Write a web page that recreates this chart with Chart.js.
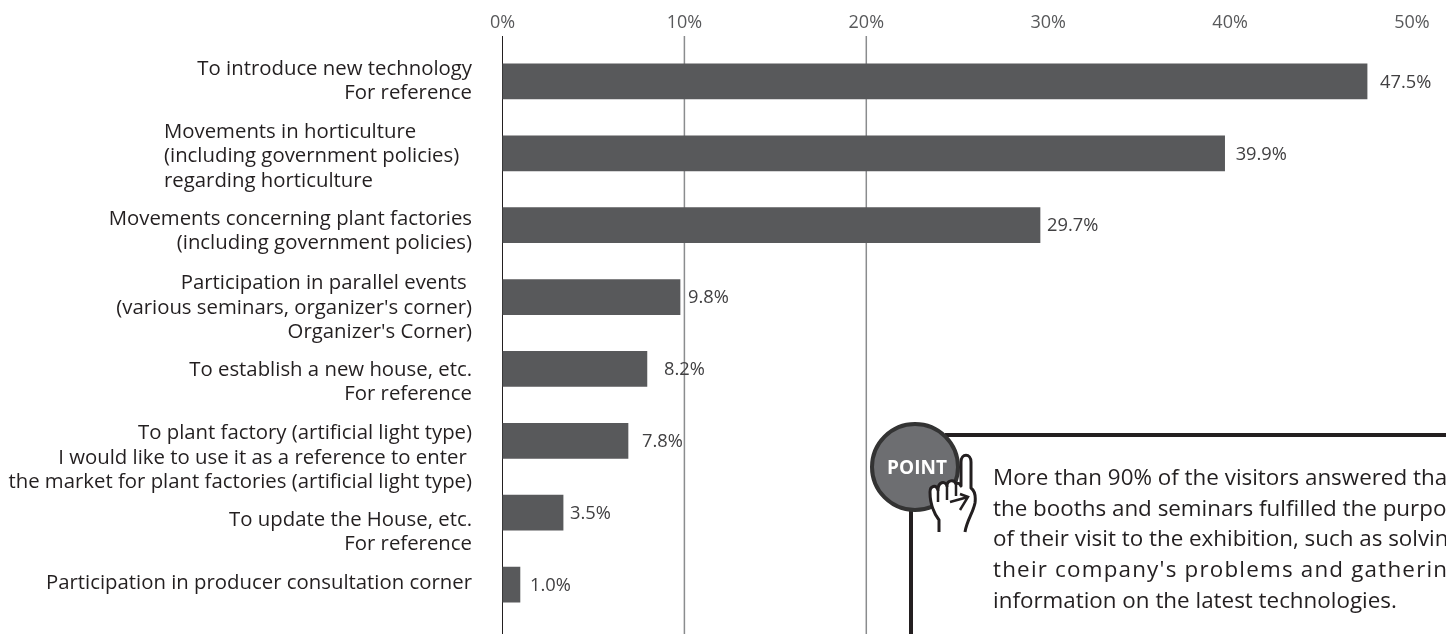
<!DOCTYPE html>
<html><head><meta charset="utf-8">
<script src="https://cdn.jsdelivr.net/npm/chart.js@4"></script>
<style>
html,body{margin:0;padding:0;background:#fff;overflow:hidden}
#wrap{position:relative;width:1446px;height:634px;overflow:hidden}
#c{position:absolute;left:0;top:0}
#note{position:absolute;left:993px;top:462px;font:22.4px/30.7px "Open Sans",sans-serif;color:#231f20;white-space:pre}
#art{position:absolute;left:0;top:0}
</style></head><body>
<div id="wrap">
<canvas id="c" width="1446" height="634"></canvas>
<svg id="art" width="1446" height="634">
<path d="M1446 435H945M911 505V634" stroke="#231f20" stroke-width="4" fill="none"/>
<circle cx="915" cy="467" r="43" fill="#6d6e71" stroke="#333" stroke-width="4"/>
<text x="917" y="474" text-anchor="middle" font-family="Open Sans" font-weight="700" font-size="19" fill="#fff">POINT</text>
<path d="M939 532V520C933 512 930 504 930 492C930 486 936 484 938 490C938 482 945 480 947 486C947 480 954 479 956 484C958 482 960 484 961 486V462C961 453 971 453 971 462V488C975 491 976 495 975 503C973 513 967 520 965 532" fill="#fff" stroke="#231f20" stroke-width="3" stroke-linejoin="round"/>
<path d="M938 490V502M947 486V500M956 484V496M968 497L950 502M960 494L968 497L960 510" fill="none" stroke="#231f20" stroke-width="2.5"/>
</svg>
<div id="note">More than 90% of the visitors answered that
the booths and seminars fulfilled the purpose
of their visit to the exhibition, such as solving
<span style="letter-spacing:1.2px">their company's problems and gathering</span>
information on the latest technologies.</div>
</div>
<script>
const categories = [
  ["To introduce new technology","For reference"],
  ["Movements in horticulture","(including government policies)","regarding horticulture"],
  ["Movements concerning plant factories","(including government policies)"],
  ["Participation in parallel events\u00a0","(various seminars, organizer's corner)","Organizer's Corner)"],
  ["To establish a new house, etc.","For reference"],
  ["To plant factory (artificial light type)","I would like to use it as a reference to enter\u00a0","the market for plant factories (artificial light type)"],
  ["To update the House, etc.","For reference"],
  ["Participation in producer consultation corner"]
];
// bar lengths as measured on the picture
const barLengths = [47.53,39.7,29.55,9.76,7.94,6.9,3.33,0.96];
// percentages as printed beside the bars
const printedLabels = ["47.5%","39.9%","29.7%","9.8%","8.2%","7.8%","3.5%","1.0%"];
const tickValues = [0,10,20,30,40,50];
const griddedTicks = [0,10,20];
const FONT = '"Open Sans",sans-serif';
const labelGap = [13,11,7,8,17,14,7,10];
const categoryNudge = [-2,1.5,4.5,9.5,11.5,15.5,18,-2.5];

const overlay = {
  id:'overlay',
  beforeDatasetsDraw(chart){
    const {ctx,scales:{x}} = chart;
    ctx.save();
    griddedTicks.forEach(v=>{
      const px = x.getPixelForValue(v);
      ctx.strokeStyle = v===0 ? '#231f20' : '#8a8c8e';
      ctx.lineWidth = v===0 ? 1 : 1.5;
      ctx.beginPath();ctx.moveTo(px,36);ctx.lineTo(px,634);ctx.stroke();
    });
    ctx.restore();
  },
  afterDatasetsDraw(chart){
    const {ctx,scales:{x,y}} = chart;
    ctx.save();
    ctx.font = '18.3px '+FONT;
    ctx.fillStyle = '#414042';
    ctx.textBaseline = 'middle';
    barLengths.forEach((v,i)=>{
      ctx.fillText(printedLabels[i], x.getPixelForValue(v)+labelGap[i], y.getPixelForValue(i)+1);
    });
    ctx.font = '20.35px '+FONT;
    ctx.fillStyle = '#231f20';
    categories.forEach((lines,i)=>{
      const c = y.getPixelForValue(i)+categoryNudge[i]+1.5;
      const leftBlock = i===1;
      ctx.textAlign = leftBlock ? 'left' : 'right';
      lines.forEach((t,k)=>{
        ctx.fillText(t, leftBlock ? 164 : 472, c+(k-(lines.length-1)/2)*24.4);
      });
    });
    ctx.restore();
  }
};

new Chart(document.getElementById('c'),{
  type:'bar',
  data:{labels:categories,datasets:[{data:barLengths,backgroundColor:'#58595b',barThickness:35}]},
  options:{
    indexAxis:'y',responsive:false,animation:false,
    layout:{padding:{left:0,right:34,top:0,bottom:13.5}},
    plugins:{legend:{display:false},tooltip:{enabled:false}},
    scales:{
      x:{position:'top',min:0,max:50,afterBuildTicks(s){s.ticks=tickValues.map(v=>({value:v}));},
        afterFit(s){s.height=45.5;},
        grid:{display:false},border:{display:false},
        ticks:{callback:v=>v+'%',font:{family:FONT,size:18},color:'#58595b',padding:4,maxRotation:0}},
      y:{afterFit(s){s.width=502.5;s.paddingTop=0;s.paddingBottom=0;},
        grid:{display:false},border:{display:false},
        ticks:{display:false}}
    }
  },
  plugins:[overlay]
});
</script>
</body></html>
